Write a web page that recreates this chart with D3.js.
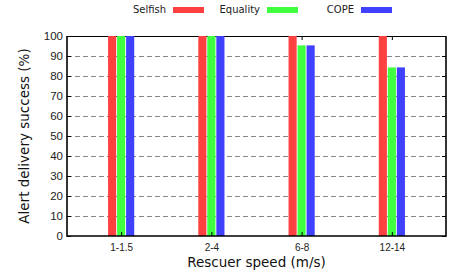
<!DOCTYPE html>
<html>
<head>
<meta charset="utf-8">
<script src="https://cdn.jsdelivr.net/npm/d3@7"></script>
<style>
  body { margin: 0; background: #fff; }
  svg { display: block; font-family: "DejaVu Sans", sans-serif; }
  .grid line { stroke: #888; stroke-dasharray: 5,3; }
</style>
</head>
<body>
<svg id="chart" width="459" height="276"></svg>
<script>
// data
var categories = ["1-1.5", "2-4", "6-8", "12-14"];
var seriesNames = ["Selfish", "Equality", "COPE"];
var selfish  = [100, 100, 100, 100];
var equality = [100, 100, 95.3, 84.3];
var cope     = [100, 100, 95.3, 84.3];
var yTicks = [0, 10, 20, 30, 40, 50, 60, 70, 80, 90, 100];

var colors = ["#ff4040", "#40ff40", "#4040ff"];
var series = [selfish, equality, cope];

var svg = d3.select("#chart");
var margin = {top: 36, right: 13, bottom: 40, left: 67};
var width = 459 - margin.left - margin.right,
    height = 276 - margin.top - margin.bottom;

var x = d3.scaleLinear().domain([-0.6, 3.6]).range([0, width]);
var y = d3.scaleLinear().domain([0, 100]).range([height, 0]);

var g = svg.append("g")
    .attr("transform", "translate(" + margin.left + "," + margin.top + ")");

// dashed grid
g.append("g").attr("class", "grid")
  .selectAll("line")
  .data(yTicks.filter(function(d){ return d > 0 && d < 100; }))
  .enter().append("line")
    .attr("x1", 0).attr("x2", width)
    .attr("y1", function(d){ return y(d) + 0.5; })
    .attr("y2", function(d){ return y(d) + 0.5; });

// top border + mirror ticks (behind bars)
g.append("line")
  .attr("x1", 0).attr("x2", width).attr("y1", 0.5).attr("y2", 0.5)
  .attr("stroke", "#000");

var topAxis = d3.axisTop(x).tickValues([0, 1, 2, 3]).tickSize(-4).tickFormat("");
g.append("g").call(topAxis).call(function(a){
  a.select(".domain").remove();
  a.selectAll("line").attr("stroke", "#000");
});

// bars
var barW = 0.09, offset = 0.1;
series.forEach(function(vals, s){
  g.append("g").attr("fill", colors[s])
    .selectAll("rect")
    .data(vals)
    .enter().append("rect")
      .attr("x", function(d, i){ return x(i + (s - 1) * offset - barW / 2); })
      .attr("width", x(barW) - x(0))
      .attr("y", function(d){ return y(d); })
      .attr("height", function(d){ return y(0) - y(d); });
});

// left axis
var yAxis = d3.axisLeft(y).tickValues(yTicks).tickSizeInner(-4).tickSizeOuter(0).tickPadding(4);
g.append("g").call(yAxis).call(function(a){
  a.select(".domain").remove();
  a.selectAll("line").attr("stroke", "#000");
  a.selectAll("text").attr("font-size", "11.5px").attr("fill", "#222");
});

// right mirror ticks
g.append("g").attr("transform", "translate(" + width + ",0)")
  .call(d3.axisRight(y).tickValues(yTicks).tickSize(-4).tickFormat(""))
  .call(function(a){
    a.select(".domain").remove();
    a.selectAll("line").attr("stroke", "#000");
  });

// bottom axis
var xAxis = d3.axisBottom(x).tickValues([0, 1, 2, 3])
  .tickFormat(function(i){ return categories[i]; })
  .tickSizeInner(-4).tickSizeOuter(0).tickPadding(8);
g.append("g").attr("transform", "translate(0," + height + ")").call(xAxis)
  .call(function(a){
    a.select(".domain").remove();
    a.selectAll("line").attr("stroke", "#000");
    a.selectAll("text").attr("font-size", "10px").attr("fill", "#222");
  });

// frame lines
g.append("path")
  .attr("d", "M0,0V" + height + "H" + width + "V0")
  .attr("fill", "none").attr("stroke", "#000").attr("stroke-width", 1.6);

// axis titles
svg.append("text")
  .attr("x", margin.left + width / 2).attr("y", 267)
  .attr("text-anchor", "middle").attr("font-size", "13.5px").attr("fill", "#111")
  .text("Rescuer speed (m/s)");

svg.append("text")
  .attr("transform", "translate(29," + (margin.top + height / 2) + ") rotate(-90)")
  .attr("text-anchor", "middle").attr("font-size", "13.5px").attr("fill", "#111")
  .text("Alert delivery success (%)");

// legend
var legend = svg.append("g").selectAll("g")
  .data(seriesNames)
  .enter().append("g")
    .attr("transform", function(d, i){ return "translate(" + (173 + i * 94) + ",0)"; });

legend.append("rect")
  .attr("x", 0).attr("y", 7).attr("width", 31).attr("height", 6)
  .attr("fill", function(d, i){ return colors[i]; });

legend.append("text")
  .attr("x", -7).attr("y", 13)
  .attr("text-anchor", "end").attr("font-size", "10px").attr("fill", "#222")
  .text(function(d){ return d; });
</script>
</body>
</html>
